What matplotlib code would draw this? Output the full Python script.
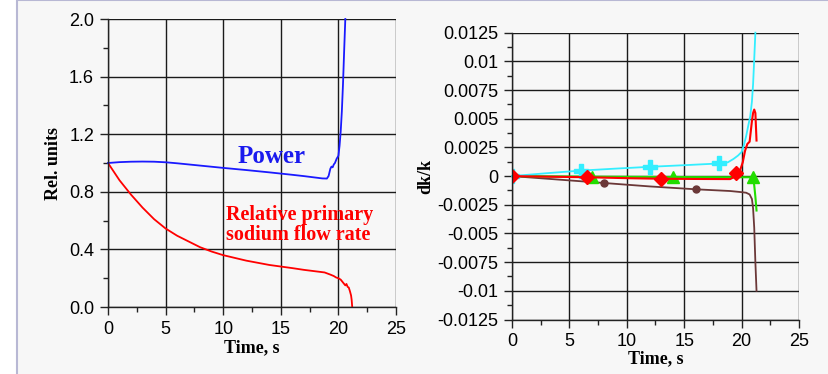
import matplotlib
matplotlib.use("Agg")
import matplotlib.pyplot as plt
from matplotlib.patches import Rectangle
from matplotlib.ticker import MultipleLocator

# ---------------- data: left panel ----------------
power_t = [0, 1, 2, 3, 4, 5, 6, 8, 10, 12, 14, 16, 17, 18, 18.6, 19.0, 19.15, 19.3, 19.4,
           19.5, 19.6, 19.7, 19.85, 20.0, 20.1, 20.2, 20.3, 20.4, 20.5, 20.6]
power_v = [1.0, 1.006, 1.009, 1.01, 1.009, 1.005, 0.998, 0.982, 0.966, 0.951, 0.935, 0.918,
           0.909, 0.899, 0.893, 0.892, 0.91, 0.96, 0.975, 0.97, 0.99, 1.0, 1.03, 1.05, 1.12,
           1.22, 1.36, 1.55, 1.78, 2.0]
flow_t = [0, 0.5, 1, 1.5, 2, 3, 4, 5, 6, 7, 8, 9, 10, 12, 14, 16, 17, 18, 18.8, 19.3, 19.6,
          19.8, 20.0, 20.2, 20.35, 20.5, 20.6, 20.7, 20.8, 20.9, 21.0, 21.1, 21.15, 21.2]
flow_v = [1.0, 0.94, 0.88, 0.83, 0.78, 0.69, 0.61, 0.545, 0.495, 0.455, 0.415, 0.385, 0.36,
          0.322, 0.292, 0.27, 0.258, 0.248, 0.24, 0.225, 0.215, 0.205, 0.2, 0.19, 0.175,
          0.16, 0.15, 0.16, 0.14, 0.135, 0.11, 0.08, 0.05, 0.0]

# ---------------- data: right panel ----------------
cyan_t = [0, 3, 6, 9, 12, 15, 18, 18.8, 19.3, 19.7, 20.0, 20.2, 20.4, 20.6, 20.75, 20.9,
          21.0, 21.1, 21.2]
cyan_v = [0.0, 0.00025, 0.00048, 0.00065, 0.00081, 0.00095, 0.0011, 0.0012, 0.0015, 0.0018,
          0.0021, 0.0027, 0.0035, 0.0045, 0.0052, 0.0065, 0.008, 0.0102, 0.0125]
red_t = [0, 3, 6.5, 10, 13, 16, 19.0, 19.5, 19.8, 20.1, 20.3, 20.5, 20.7, 20.9, 21.0, 21.1,
         21.2, 21.3]
red_v = [0.0, -0.00005, -0.0001, -0.00018, -0.00023, -0.00025, -0.00026, 0.0, 0.0003,
         0.0012, 0.0022, 0.0028, 0.003, 0.0048, 0.0055, 0.0058, 0.0055, 0.0031]
green_t = [0, 7, 14, 20, 21.0, 21.1, 21.2, 21.3]
green_v = [0.0, -0.00005, -0.00008, -0.0001, -0.0001, -0.0008, -0.0018, -0.003]
brown_t = [0, 4, 8, 12, 16, 19, 20, 20.4, 20.7, 20.9, 21.0, 21.1, 21.2, 21.3]
brown_v = [0.0, -0.0003, -0.0006, -0.0009, -0.00115, -0.0013, -0.0014, -0.00145, -0.0016,
           -0.002, -0.0028, -0.0045, -0.0075, -0.01]

cyan_mt = [0, 6, 12, 18]
cyan_mv = [0.0, 0.00048, 0.00081, 0.0011]
red_mt = [0, 6.5, 13, 19.5]
red_mv = [0.0, -0.0001, -0.00023, 0.0003]
green_mt = [7, 14, 21]
green_mv = [-0.00005, -0.00008, -0.0001]
brown_mt = [8, 16]
brown_mv = [-0.0006, -0.00115]

left_xticks = [0, 5, 10, 15, 20, 25]
left_yticks = [0.0, 0.4, 0.8, 1.2, 1.6, 2.0]
left_ylabels = ["0.0", "0.4", "0.8", "1.2", "1.6", "2.0"]
right_yticks = [0.0125, 0.01, 0.0075, 0.005, 0.0025, 0, -0.0025, -0.005, -0.0075, -0.01, -0.0125]
right_ylabels = ["0.0125", "0.01", "0.0075", "0.005", "0.0025", "0", "-0.0025", "-0.005",
                 "-0.0075", "-0.01", "-0.0125"]

W, H = 829, 374
fig = plt.figure(figsize=(W / 100, H / 100), dpi=100)
fig.patch.set_facecolor("white")
fig.add_artist(Rectangle((17.5 / W, -0.01), 1.0, 1.01 - 0.5 / H, transform=fig.transFigure,
                         facecolor="#f7f7f7", edgecolor="#b8b8d4", linewidth=1.5, zorder=-10))

tick_font = dict(family="Liberation Sans", size=13)
lab_font = dict(family="Liberation Serif", size=13, weight="bold")


def style(ax, xlim, ylim, xminor, yminor):
    ax.set_facecolor("#f7f7f7")
    ax.set_xlim(*xlim)
    ax.set_ylim(*ylim)
    ax.xaxis.set_minor_locator(MultipleLocator(xminor))
    ax.yaxis.set_minor_locator(MultipleLocator(yminor))
    ax.grid(True, which="major", color="#1a1a1a", linewidth=1.0)
    ax.set_axisbelow(True)
    for s in ["top", "right"]:
        ax.spines[s].set_visible(False)
    for s in ["left", "bottom"]:
        ax.spines[s].set_color("#222222")
        ax.spines[s].set_linewidth(1.0)
    ax.tick_params(which="major", direction="out", length=6, width=1, color="#222222", pad=4)
    ax.tick_params(which="minor", direction="out", length=3.5, width=1, color="#222222")
    for lab in ax.get_xticklabels() + ax.get_yticklabels():
        lab.set_fontfamily(tick_font["family"])
        lab.set_fontsize(tick_font["size"])


# ---------- left ----------
ax1 = fig.add_axes([108 / W, 1 - 307 / H, (396 - 108) / W, (307 - 19) / H])
ax1.plot(power_t, power_v, color="#1a1aff", linewidth=1.3, clip_on=False)
ax1.plot(flow_t, flow_v, color="#ff0000", linewidth=1.3)
ax1.set_xticks(left_xticks)
ax1.set_yticks(left_yticks)
ax1.set_yticklabels(left_ylabels)
style(ax1, (0, 25), (0, 2.0), 2.5, 0.2)
ax1.set_xlabel("Time, s", fontdict=lab_font, labelpad=1)
ax1.set_ylabel("Rel. units", fontdict=lab_font, labelpad=5)
ax1.text(14.2, 1.045, "Power", color="#1a1aee", fontsize=18, family="Liberation Serif",
         weight="bold", ha="center", va="center")
ax1.text(10.2, 0.57, "Relative primary\nsodium flow rate", color="#ff0000", fontsize=14.5,
         family="Liberation Serif", weight="bold", ha="left", va="center", linespacing=1.05)

# ---------- right ----------
ax2 = fig.add_axes([512 / W, 1 - 319.5 / H, (799 - 512) / W, (319.5 - 32.7) / H])
ax2.plot(brown_t, brown_v, color="#6b3838", linewidth=1.3)
ax2.plot(brown_mt, brown_mv, "o", color="#6b3838", markersize=5)
ax2.plot(green_t, green_v, color="#22dd00", linewidth=1.5)
ax2.plot(green_mt, green_mv, "^", color="#22dd00", markersize=8)
ax2.plot(cyan_t, cyan_v, color="#33eeff", linewidth=1.3, clip_on=False)
ax2.plot(cyan_mt, cyan_mv, "P", color="#33eeff", markersize=10)
ax2.plot(red_t, red_v, color="#ff0000", linewidth=1.5)
ax2.plot(red_mt, red_mv, "D", color="#ff0000", markersize=7)
ax2.set_xticks(left_xticks)
ax2.set_yticks(right_yticks)
ax2.set_yticklabels(right_ylabels)
style(ax2, (0, 25), (-0.0125, 0.0125), 2.5, 0.00125)
ax2.set_xlabel("Time, s", fontdict=lab_font, labelpad=0)
ax2.set_ylabel("dk/k", fontdict=lab_font, labelpad=2)

fig.savefig("out.png", dpi=100, facecolor=fig.get_facecolor())
